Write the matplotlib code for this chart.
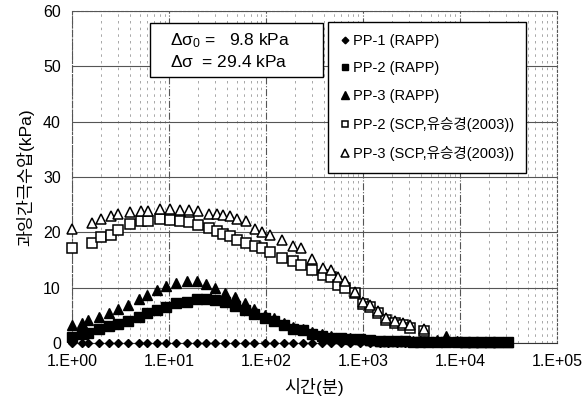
import matplotlib

matplotlib.use("Agg")
import matplotlib.pyplot as plt
from matplotlib.patches import Rectangle
from matplotlib.ticker import FixedLocator, LogLocator, NullFormatter

plt.rcParams["font.family"] = ["Liberation Sans", "Noto Sans CJK KR", "DejaVu Sans"]
plt.rcParams["mathtext.fontset"] = "custom"
plt.rcParams["mathtext.rm"] = "Liberation Sans"
plt.rcParams["mathtext.it"] = "Liberation Sans"

# time (min) for the RAPP piezometers
t_rapp = [1, 1.26, 1.47, 1.9, 2.4, 3.0, 3.75, 4.9, 6.0, 7.6, 9.3, 11.8, 15.2,
          19.3, 24, 30, 38, 48, 61, 75, 98, 121, 153, 191, 243, 300, 376, 470,
          600, 745, 930, 1180, 1500, 1820, 2240, 2700, 3300, 3900, 4700, 5750,
          7250, 9300, 11300, 13800, 16600, 20400, 24500, 31600]

pp1_rapp = [0, 0, 0, 0, 0, 0, 0, 0, 0, 0, 0, 0, 0, 0, 0, 0, 0, 0, 0, 0, 0, 0,
            0, 0, 0, 0, 0, 0, 0, 0, 0, 0, 0, 0, 0, 0, 0, 0, 0, 0, 0, 0, 0, 0,
            0, 0, 0, 0]

pp2_rapp = [1.15, 1.6, 1.9, 2.5, 3.0, 3.4, 4.0, 4.8, 5.4, 6.0, 6.6, 7.2, 7.5,
            7.9, 8.0, 7.8, 7.4, 6.7, 6.0, 5.2, 4.5, 4.0, 3.3, 2.5, 2.35, 1.6,
            1.27, 1.0, 0.85, 0.7, 0.7, 0.5, 0.35, 0.35, 0.35, 0.3, 0.25, 0.25,
            0.2, 0.2, 0.2, 0.2, 0.2, 0.2, 0.2, 0.2, 0.2, 0.2]

pp3_rapp = [3.3, 3.7, 4.2, 4.8, 5.5, 6.1, 6.9, 7.9, 8.7, 9.6, 10.3, 10.9, 11.3,
            11.3, 10.7, 9.9, 9.0, 8.4, 7.2, 6.1, 5.1, 4.5, 3.6, 2.9, 2.6, 2.0,
            1.6, 1.27, 1.0, 0.85, 0.8, 0.5, 0.4, 0.4, 0.35, 0.3, 0.3, 0.3,
            0.3, 0.5, 1.3, 0.3, 0.2, 0.2, 0.2, 0.2, 0.2, 0.2]

# time (min) for the SCP data (유승경, 2003)
t_scp = [1, 1.6, 2.0, 2.5, 3.0, 4.0, 5.2, 6.1, 8.1, 10.2, 13, 16.2, 20, 26,
         31, 36, 43, 50, 62, 77, 92, 110, 148, 188, 228, 302, 390, 465, 556,
         650, 830, 1000, 1180, 1440, 1750, 2140, 2600, 3050, 4260]

pp2_scp = [17.1, 18.0, 19.1, 19.5, 20.4, 21.6, 22.1, 22.1, 22.5, 22.3, 22.1,
           21.9, 21.4, 20.8, 20.3, 19.8, 19.4, 18.6, 18.1, 17.6, 17.1, 16.5,
           15.3, 14.9, 14.1, 13.2, 12.3, 12.0, 10.5, 9.9, 9.0, 7.0, 6.5, 5.5,
           4.2, 3.6, 3.2, 2.8, 2.2]

pp3_scp = [20.6, 21.7, 22.4, 23.0, 23.4, 23.6, 23.9, 23.9, 24.2, 24.2, 24.1,
           24.1, 23.9, 23.4, 23.3, 23.1, 22.9, 22.5, 22.0, 20.6, 20.1, 19.5,
           18.6, 17.6, 17.1, 15.2, 13.5, 13.2, 12.0, 11.3, 9.2, 7.5, 6.9, 5.8,
           4.6, 4.0, 3.7, 3.3, 2.6]

x_ticks = [1, 10, 100, 1000, 10000, 100000]
x_tick_labels = ["1.E+00", "1.E+01", "1.E+02", "1.E+03", "1.E+04", "1.E+05"]
y_ticks = [0, 10, 20, 30, 40, 50, 60]

fig = plt.figure(figsize=(5.88, 4.07), dpi=100)
ax = fig.add_axes([0.1224, 0.157, 0.8246, 0.816])

ax.plot(t_rapp, pp1_rapp, linestyle="none", marker="D", ms=4.5,
        color="black", label="PP-1 (RAPP)", zorder=5, clip_on=False)
ax.plot(t_rapp, pp2_rapp, linestyle="none", marker="s", ms=6.5,
        color="black", label="PP-2 (RAPP)", zorder=4, clip_on=False)
ax.plot(t_rapp, pp3_rapp, linestyle="none", marker="^", ms=7,
        color="black", label="PP-3 (RAPP)", zorder=3, clip_on=False)
ax.plot(t_scp, pp2_scp, linestyle="none", marker="s", ms=6.5,
        mfc="white", mec="black", mew=1.1,
        label="PP-2 (SCP,유승경(2003))", zorder=3, clip_on=False)
ax.plot(t_scp, pp3_scp, linestyle="none", marker="^", ms=7.5,
        mfc="white", mec="black", mew=1.1,
        label="PP-3 (SCP,유승경(2003))", zorder=3, clip_on=False)

ax.set_xscale("log")
ax.set_xlim(1, 100000)
ax.set_ylim(0, 60)
ax.xaxis.set_major_locator(FixedLocator(x_ticks))
ax.set_xticklabels(x_tick_labels)
ax.xaxis.set_minor_locator(LogLocator(base=10, subs=range(2, 10)))
ax.xaxis.set_minor_formatter(NullFormatter())
ax.set_yticks(y_ticks)
ax.tick_params(which="both", length=0, labelsize=11.5, pad=8)

ax.grid(True, which="major", axis="y", color="#555555", linewidth=0.8)
ax.grid(True, which="major", axis="x", color="#555555", linewidth=0.8,
        linestyle="-.")
ax.grid(True, which="minor", axis="x", color="#999999", linewidth=0.6,
        linestyle=(0, (3, 5)))
ax.set_axisbelow(True)

for side in ["top", "right", "left"]:
    ax.spines[side].set_linestyle((0, (2, 2)))
    ax.spines[side].set_color("#555555")
ax.spines["bottom"].set_color("#333333")

ax.set_xlabel("시간(분)", fontsize=12.5, labelpad=6)
ax.set_ylabel("과잉간극수압(kPa)", fontsize=12.5, labelpad=6)

# stress increment box
ax.add_patch(Rectangle((0.161, 0.801), 0.357, 0.163, transform=ax.transAxes,
                       facecolor="white", edgecolor="black", linewidth=1.0,
                       zorder=6))
ax.text(0.203, 0.910, r"$\mathregular{\Delta\sigma_0}$ =   9.8 kPa",
        transform=ax.transAxes, fontsize=12.5, va="center", zorder=7)
ax.text(0.203, 0.845, r"$\mathregular{\Delta\sigma}$  = 29.4 kPa",
        transform=ax.transAxes, fontsize=12.5, va="center", zorder=7)

leg = ax.legend(loc="upper left", bbox_to_anchor=(0.529, 0.967),
                fontsize=10.5, frameon=True, fancybox=False, framealpha=1,
                edgecolor="black", markerscale=0.75, handlelength=0.6,
                handletextpad=0.3, labelspacing=0.95, borderpad=0.8,
                borderaxespad=0)
leg.get_frame().set_linewidth(1.0)
leg.set_zorder(8)

fig.savefig("out.png", dpi=100)
